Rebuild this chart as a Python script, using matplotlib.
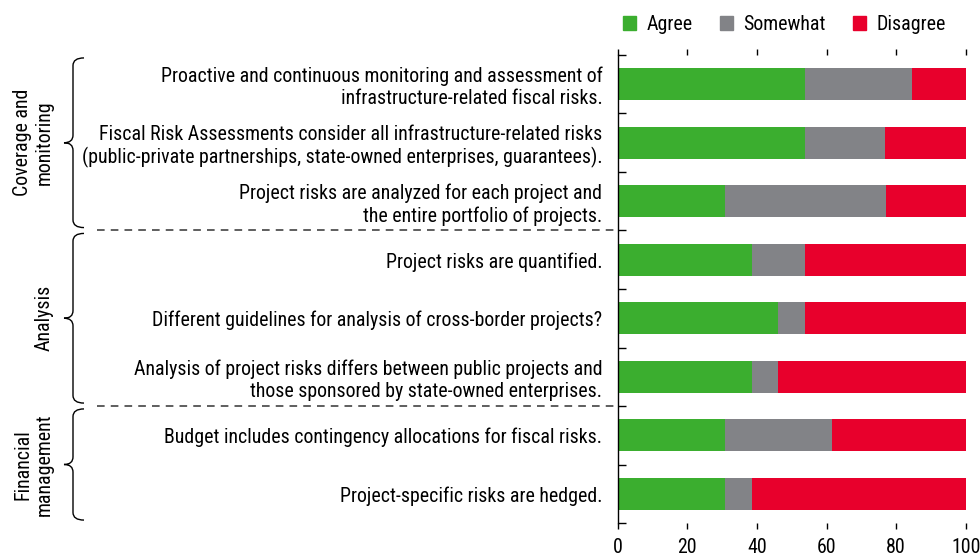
import matplotlib
matplotlib.use("Agg")
import matplotlib.pyplot as plt
from matplotlib.patches import Patch, PathPatch
from matplotlib.path import Path
from matplotlib.transforms import blended_transform_factory
from matplotlib.ticker import FixedLocator

plt.rcParams["font.family"] = ["Roboto Condensed", "DejaVu Sans"]

categories = [
    "Proactive and continuous monitoring and assessment of\ninfrastructure-related fiscal risks.",
    "Fiscal Risk Assessments consider all infrastructure-related risks\n(public-private partnerships, state-owned enterprises, guarantees).",
    "Project risks are analyzed for each project and\nthe entire portfolio of projects.",
    "Project risks are quantified.",
    "Different guidelines for analysis of cross-border projects?",
    "Analysis of project risks differs between public projects and\nthose sponsored by state-owned enterprises.",
    "Budget includes contingency allocations for fiscal risks.",
    "Project-specific risks are hedged.",
]
agree = [53.8, 53.8, 30.8, 38.5, 46.2, 38.5, 30.8, 30.8]
somewhat = [30.8, 23.1, 46.2, 15.4, 7.7, 7.7, 30.8, 7.7]
disagree = [15.4, 23.1, 23.1, 46.2, 46.2, 53.8, 38.5, 61.5]

groups = ["Coverage and\nmonitoring", "Analysis", "Financial\nmanagement"]
group_spans = [(0, 2), (3, 5), (6, 7)]

GREEN = "#3bae2f"
GRAY = "#828387"
RED = "#e8002c"
FS = 14.3

W, H = 980, 557
fig = plt.figure(figsize=(W / 100, H / 100), dpi=100)
ax = fig.add_axes([617.7 / W, 1 - 523 / H, 348 / W, 468 / H])

y = list(range(len(categories)))
left2 = [a + s for a, s in zip(agree, somewhat)]
ax.barh(y, agree, height=0.54, color=GREEN)
ax.barh(y, somewhat, left=agree, height=0.54, color=GRAY)
ax.barh(y, disagree, left=left2, height=0.54, color=RED)

ax.set_xlim(0, 100)
ax.set_ylim(len(categories) - 0.5, -0.5)
ax.set_xticks([0, 20, 40, 60, 80, 100])
ax.set_yticks(y)
ax.set_yticklabels(categories, fontsize=FS, ha="right")
ax.yaxis.set_minor_locator(FixedLocator([i - 0.5 for i in range(len(categories) + 1)]))
ax.tick_params(axis="y", which="major", length=0, pad=11)
ax.tick_params(axis="y", which="minor", direction="in", length=6, width=1, color="black")
ax.tick_params(axis="x", top=True, direction="out", length=4.5, width=1,
               labelsize=FS, pad=6)
for s in ["top", "right", "bottom"]:
    ax.spines[s].set_visible(False)
ax.spines["left"].set_linewidth(1)

# dashed separators between groups
for b in [2.5, 5.5]:
    ax.axhline(b, xmin=-(617.7 - 97) / 348, xmax=0, color="#333333", lw=1.1,
               ls=(0, (5, 4)), clip_on=False)

# braces and group labels
tr = blended_transform_factory(fig.transFigure, ax.transData)
x_line = 73 / W
x_end = 84 / W
x_tip = 64 / W
r = 0.13
for name, (g0, g1) in zip(groups, group_spans):
    top = g0 - 0.5 + 0.05
    bot = g1 + 0.5 - 0.05
    mid = (top + bot) / 2
    verts = [
        (x_end, top), (x_line, top), (x_line, top + r),
        (x_line, mid - r), (x_line, mid), (x_tip, mid),
        (x_line, mid), (x_line, mid + r),
        (x_line, bot - r), (x_line, bot), (x_end, bot),
    ]
    codes = [
        Path.MOVETO, Path.CURVE3, Path.CURVE3,
        Path.LINETO, Path.CURVE3, Path.CURVE3,
        Path.CURVE3, Path.CURVE3,
        Path.LINETO, Path.CURVE3, Path.CURVE3,
    ]
    ax.add_patch(PathPatch(Path(verts, codes), fc="none", ec="black", lw=1,
                           transform=tr, clip_on=False))
    ax.text(54 / W, mid, name, transform=tr, rotation=90, ha="right",
            va="center", multialignment="center", fontsize=FS)

handles = [Patch(color=GREEN, label="Agree"),
           Patch(color=GRAY, label="Somewhat"),
           Patch(color=RED, label="Disagree")]
fig.legend(handles=handles, loc="upper right", bbox_to_anchor=(0.983, 1.005),
           ncol=3, frameon=False, fontsize=FS, handlelength=0.65,
           handleheight=0.65, handletextpad=0.5, columnspacing=1.4)

fig.savefig("out.png", dpi=100)
